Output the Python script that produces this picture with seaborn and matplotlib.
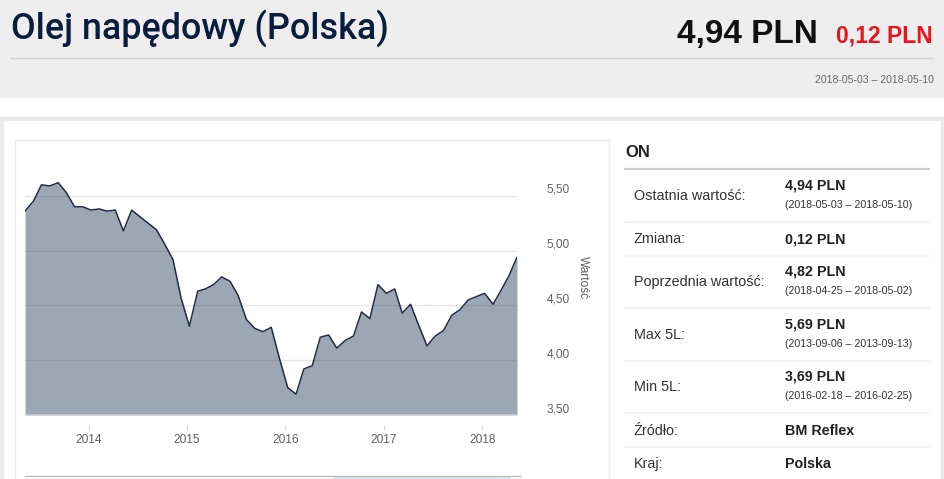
import pandas as pd
import numpy as np
import matplotlib
matplotlib.use("Agg")
import matplotlib.pyplot as plt
import seaborn as sns
from matplotlib.lines import Line2D
from matplotlib.patches import Rectangle

# dane: srednie miesieczne ceny ON
dates = pd.date_range("2013-05-10", periods=61, freq=pd.DateOffset(months=1))
prices = [5.36, 5.45, 5.60, 5.59, 5.62, 5.53, 5.40, 5.40, 5.37, 5.38,
          5.36, 5.37, 5.18, 5.37, 5.31, 5.25, 5.19, 5.06, 4.92, 4.57,
          4.31, 4.63, 4.65, 4.69, 4.76, 4.72, 4.59, 4.37, 4.29, 4.26,
          4.30, 4.02, 3.75, 3.69, 3.92, 3.95, 4.21, 4.23, 4.11, 4.18,
          4.22, 4.44, 4.38, 4.69, 4.61, 4.65, 4.43, 4.51, 4.32, 4.13,
          4.22, 4.27, 4.41, 4.46, 4.55, 4.58, 4.61, 4.51, 4.63, 4.77, 4.94]
year_ticks = [2014, 2015, 2016, 2017, 2018]
y_ticks = [3.5, 4.0, 4.5, 5.0, 5.5]

# tabela po prawej
rows = [
    ("Ostatnia wartość:", "4,94 PLN", "(2018-05-03 – 2018-05-10)"),
    ("Zmiana:", "0,12 PLN", None),
    ("Poprzednia wartość:", "4,82 PLN", "(2018-04-25 – 2018-05-02)"),
    ("Max 5L:", "5,69 PLN", "(2013-09-06 – 2013-09-13)"),
    ("Min 5L:", "3,69 PLN", "(2016-02-18 – 2016-02-25)"),
    ("Źródło:", "BM Reflex", None),
    ("Kraj:", "Polska", None),
]
row_y = [196, 239, 282, 335, 387, 431, 464]
sep_y = [222, 256, 308, 361, 413, 447]

sns.set_theme(style="white")
plt.rcParams['font.family'] = ['Liberation Sans', 'DejaVu Sans']

W, H = 945, 479
fig = plt.figure(figsize=(W / 100, H / 100), dpi=100)
fig.patch.set_facecolor("white")


def fx(px):
    return px / W


def fy(py):
    return 1 - py / H


def hline(y, x0, x1, color, lw=1.0):
    fig.add_artist(Line2D([fx(x0), fx(x1)], [fy(y), fy(y)], color=color, lw=lw,
                          transform=fig.transFigure))


def vline(x, y0, y1, color, lw=1.0):
    fig.add_artist(Line2D([fx(x), fx(x)], [fy(y0), fy(y1)], color=color, lw=lw,
                          transform=fig.transFigure))


# naglowek
fig.add_artist(Rectangle((0, fy(97)), 1, 97 / H, color="#eeeeee",
                         transform=fig.transFigure, zorder=0))
hline(58, 10, 934, "#d4d4d4")
title = fig.text(fx(11), fy(39.5), "Olej napędowy (Polska)", fontsize=22,
                 color="#0b1d3d", va="baseline", ha="left", fontweight="medium",
                 family=["Roboto", "DejaVu Sans"])
fig.canvas.draw()
w = title.get_window_extent().width
title.set_fontsize(22 * 377 / w)
fig.text(fx(818), fy(43), "4,94 PLN", fontsize=24, fontweight="bold",
         color="#111111", ha="right", va="baseline")
fig.text(fx(933), fy(43), "0,12 PLN", fontsize=16.5, fontweight="bold",
         color="#e8141e", ha="right", va="baseline")
fig.text(fx(934), fy(80), "2018-05-03 – 2018-05-10", fontsize=7.6,
         color="#666666", ha="right", va="center")

# ramka panelu
fig.add_artist(Rectangle((0, fy(120)), 1, 3 / H, color="#ebebeb",
                         transform=fig.transFigure, zorder=0))
fig.add_artist(Rectangle((0, 0), 3 / W, fy(117), color="#ebebeb",
                         transform=fig.transFigure, zorder=0))
fig.add_artist(Rectangle((fx(941), 0), 4 / W, fy(117), color="#ebebeb",
                         transform=fig.transFigure, zorder=0))
# ramka wykresu
hline(139.5, 15, 609, "#ececec")
vline(15.5, 139, 479, "#ececec")
vline(609.5, 139, 479, "#ececec")

# wykres
ax = fig.add_axes([fx(25), fy(415), (517 - 25) / W, (415 - 141) / H])
ax.set_facecolor("none")
ax.yaxis.grid(True, color="#e6e6e6", lw=1)
ax.xaxis.grid(False)
ax.set_axisbelow(True)
ax.fill_between(dates, prices, 3.5, color="#1c3150", alpha=0.43, lw=0, zorder=2)
sns.lineplot(x=dates, y=prices, ax=ax, color="#1f2d45", lw=1.1, zorder=4)
ax.axhline(3.5, color="#c8ced8", lw=1.2, zorder=3)
ax.set_xlim(dates[0], dates[-1])
ax.set_ylim(3.5, 6.0)

for s in ax.spines.values():
    s.set_visible(False)
ax.spines["bottom"].set_position(("outward", 7.2))

ax.set_xticks([pd.Timestamp(f"{y}-01-01") for y in year_ticks])
ax.set_xticklabels([str(y) for y in year_ticks])
ax.tick_params(axis="x", direction="out", length=3.6, width=0.8, color="#ccd6eb",
               pad=2.6, labelsize=8.6, labelcolor="#606060", bottom=True)

ax.yaxis.tick_right()
ax.set_yticks(y_ticks)
ax.set_yticklabels([f"{v:.2f}".replace(".", ",") for v in y_ticks])
ax.tick_params(axis="y", length=0, pad=21.6, labelsize=8.6, labelcolor="#606060")
for t in ax.yaxis.get_major_ticks():
    t.label2.set_va("bottom")
ax.set_xlabel("")
ax.set_ylabel("")
fig.text(fx(583), fy(277), "Wartość", rotation=270, ha="center", va="center",
         fontsize=8.6, color="#606060")

# nawigator (fragment)
hline(475.5, 25, 521, "#c0c0c0")
fig.add_artist(Rectangle((fx(333), 0), (510 - 333) / W, fy(476.5), color="#dbe6f4",
                         transform=fig.transFigure, zorder=1))

# tabela
fig.text(fx(625), fy(152.5), "ON", fontsize=12, fontweight="bold", color="#222222",
         ha="left", va="center")
hline(168.5, 625, 929, "#cccccc", lw=1.6)
for y in sep_y:
    hline(y, 625, 929, "#f2f2f2", lw=1.6)
for (lab, val, sub), y in zip(rows, row_y):
    fig.text(fx(634), fy(y), lab, fontsize=10.4, color="#333333", ha="left", va="center")
    if sub is None:
        fig.text(fx(785), fy(y), val, fontsize=10.3, fontweight="bold",
                 color="#222222", ha="left", va="center")
    else:
        fig.text(fx(785), fy(y - 10.5), val, fontsize=10.3, fontweight="bold",
                 color="#222222", ha="left", va="center")
        fig.text(fx(785), fy(y + 9), sub, fontsize=7.7, color="#333333",
                 ha="left", va="center")

fig.savefig("out.png", dpi=100)
